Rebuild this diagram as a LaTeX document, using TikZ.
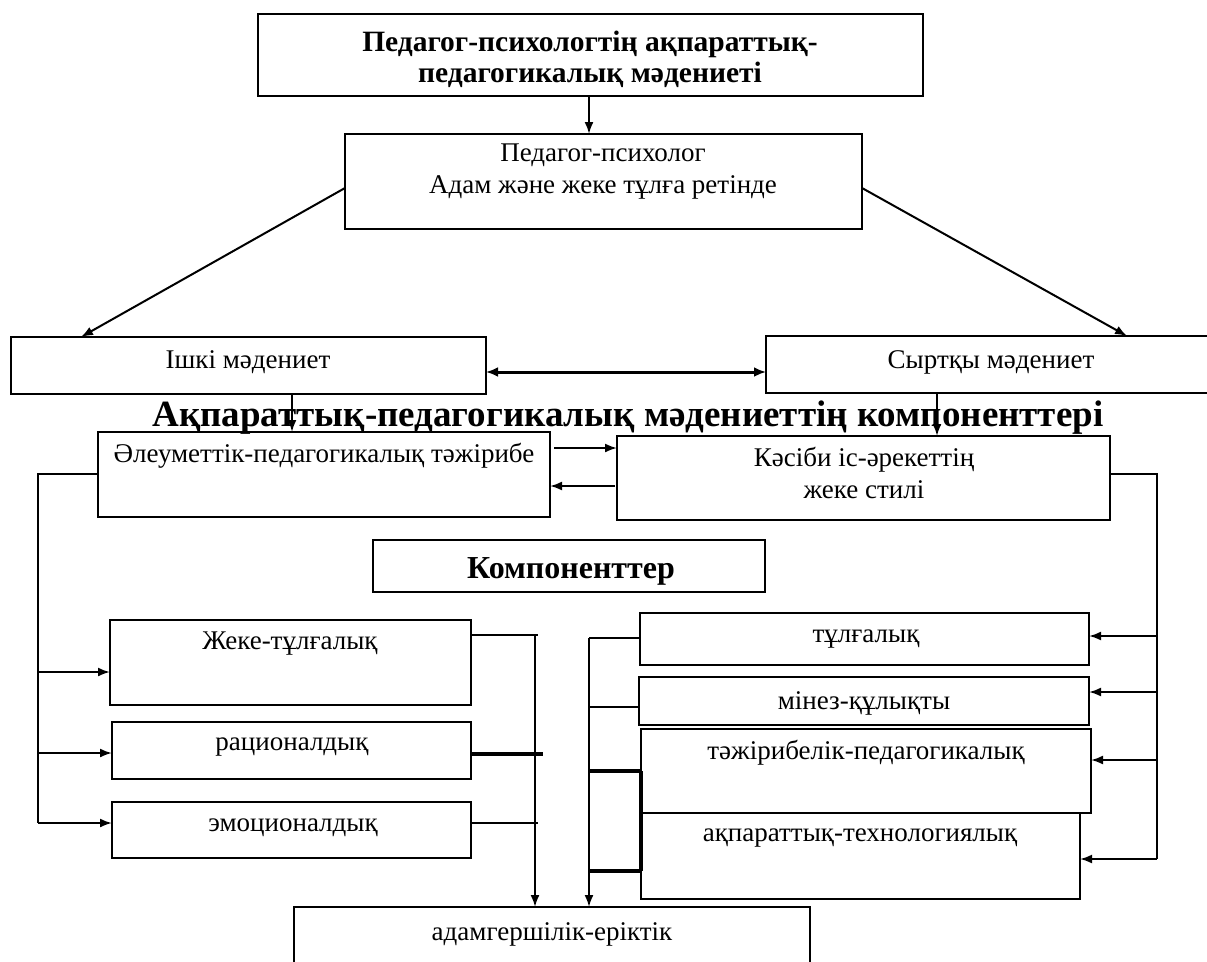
\documentclass[tikz,border=0pt]{standalone}
\usepackage{fontspec}
\setmainfont{Liberation Serif}
\usetikzlibrary{arrows.meta,calc}
\newcommand\boxat[5]{\node[box, minimum width={#4-#2}, minimum height={#5-#3}, anchor=north west] (#1) at (#2,#3) {};}
\begin{document}
\begin{tikzpicture}[x=1pt,y=-1pt,
  box/.style={draw, line width=1.8pt, inner sep=0pt, outer sep=0pt, rectangle},
  txt/.style={font=\fontsize{27}{32}\selectfont, align=center, inner sep=0pt},
  btxt/.style={font=\fontsize{29.5}{31}\selectfont\bfseries, align=center, inner sep=0pt},
  conn/.style={line width=2pt},
  arr/.style={line width=2pt, -{Latex[length=12pt,width=9pt]}},
]
\useasboundingbox (0,0) rectangle (1207,961);
% boxes
\boxat{top}{258}{14}{923}{96}
\boxat{psy}{345}{134}{862}{229}
\boxat{inner}{11}{337}{486}{394}
\boxat{outer}{766}{336}{1216}{393}
\boxat{soc}{98}{432}{550}{517}
\boxat{prof}{617}{436}{1110}{520}
\boxat{comp}{373}{540}{765}{592}
\boxat{zheke}{110}{620}{471}{705}
\boxat{rat}{112}{722}{471}{779}
\boxat{emo}{112}{802}{471}{858}
\boxat{tul}{640}{613}{1089}{665}
\boxat{minez}{639}{677}{1089}{725}
\boxat{taj}{641}{729}{1091}{813}
\boxat{akp}{641}{813}{1080}{899}
\boxat{adam}{294}{907}{810}{985}
% texts
\node[btxt] (ttop) at (590,59) {Педагог-психологтің ақпараттық-\\педагогикалық мәдениеті};
\node[txt] (tpsy) at (603,172) {Педагог-психолог\\Адам және жеке тұлға ретінде};
\node[txt] (tinner) at (248,362) {Ішкі мәдениет};
\node[txt] (touter) at (991,362) {Сыртқы мәдениет};
\node[font=\fontsize{37}{40}\selectfont\bfseries, inner sep=0pt] (title) at (628,418) {Ақпараттық-педагогикалық мәдениеттің компоненттері};
\node[txt] (tsoc) at (324,456) {Әлеуметтік-педагогикалық тәжірибе};
\node[txt] (tprof) at (864,473) {Кәсіби іс-әрекеттің\\жеке стилі};
\node[font=\fontsize{32}{36}\selectfont\bfseries, inner sep=0pt] (tcomp) at (571,571) {Компоненттер};
\node[txt] (tzheke) at (290,644) {Жеке-тұлғалық};
\node[txt] (trat) at (292,747) {рационалдық};
\node[txt] (temo) at (293,828) {эмоционалдық};
\node[txt] (ttul) at (866,639) {тұлғалық};
\node[txt] (tmin) at (864,703) {мінез-құлықты};
\node[txt] (ttaj) at (866,753) {тәжірибелік-педагогикалық};
\node[txt] (takp) at (860,838) {ақпараттық-технологиялық};
\node[txt] (tadam) at (552,934) {адамгершілік-еріктік};
% upper connectors
\draw[arr] ([xshift=-1.5pt]top.south) -- ([xshift=-1.5pt]top.south |- psy.north);
\draw[arr] ($(psy.north west)+(0,54)$) -- ($(inner.north west)+(70,0)$);
\draw[arr] ($(psy.north east)+(0,54)$) -- ($(outer.north west)+(361,0)$);
\draw[line width=3pt, {Latex[length=12pt,width=10pt]}-{Latex[length=12pt,width=10pt]}] ($(inner.north east)+(0,35)$) -- ($(outer.north west)+(0,36)$);
\draw[arr] ($(inner.south west)+(281,0)$) -- ($(soc.north west)+(194,0)$);
\draw[arr] ($(outer.south west)+(171,0)$) -- ($(prof.north west)+(320,0)$);
\draw[arr] ($(soc.north east)+(4,16)$) -- ($(prof.north west)+(0,12)$);
\draw[arr] ($(prof.north west)+(-2,50)$) -- ($(soc.north east)+(0,54)$);
% left bus
\coordinate (LT) at (38,474);
\coordinate (L1) at (38,672);
\coordinate (L2) at (38,753);
\coordinate (LB) at (38,823);
\draw[conn] ($(soc.north west)+(0,42)$) -- (LT) -- (LB);
\draw[arr] (L1) -- ($(zheke.north west)+(0,52)$);
\draw[arr] (L2) -- ($(rat.north west)+(0,31)$);
\draw[arr] (LB) -- ($(emo.north west)+(0,21)$);
% right bus
\coordinate (RT) at (1157,474);
\coordinate (R1) at (1157,636);
\coordinate (R2) at (1157,692);
\coordinate (R3) at (1157,760);
\coordinate (RB) at (1157,859);
\draw[conn] ($(prof.north east)+(0,38)$) -- (RT) -- (RB);
\draw[arr] (R1) -- ($(tul.north east)+(0,23)$);
\draw[arr] (R2) -- ($(minez.north east)+(0,15)$);
\draw[arr] (R3) -- ($(taj.north east)+(0,31)$);
\draw[arr] (RB) -- ($(akp.north east)+(0,46)$);
% lower left collector
\coordinate (M1) at (535,635);
\draw[conn] ($(zheke.north east)+(0,15)$) -- ++(67,0);
\draw[arr] (M1) -- (M1 |- adam.north);
\draw[line width=4.5pt] ($(rat.north east)+(0,32)$) -- ++(72,0);
\draw[conn] ($(emo.north east)+(0,21)$) -- ++(67,0);
% lower right collector
\coordinate (N1) at (589,638);
\draw[conn] ($(tul.north west)+(0,25)$) -- (N1);
\draw[arr] (N1) -- (N1 |- adam.north);
\draw[conn] ($(minez.north west)+(0,30)$) -- ++(-50,0);
\draw[line width=3.5pt] ($(taj.north west)+(0,42)$) -- ++(-52,0);
\draw[line width=3.5pt] ($(akp.north west)+(0,58)$) -- ++(-52,0);
\draw[line width=3.5pt] ($(taj.north west)+(0,42)$) -- ($(akp.north west)+(0,58)$);
\end{tikzpicture}
\end{document}
